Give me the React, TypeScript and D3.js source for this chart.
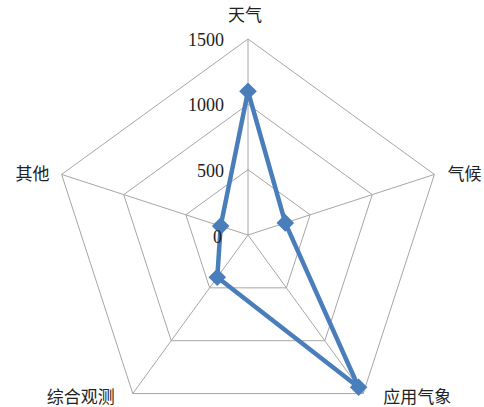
import React from 'react';
import * as d3 from 'd3';

// categories clockwise from the top
const categories = ['天气', '气候', '应用气象', '综合观测', '其他'];
const values = [1100, 300, 1440, 400, 220];
const ticks = [0, 500, 1000, 1500];

const W = 484;
const H = 407;
const cx = 248;
const cy = 235;
const R = 196;

const App: React.FC = () => {
  const r = d3.scaleLinear().domain([0, 1500]).range([0, R]);
  const angle = d3.scaleLinear().domain([0, categories.length]).range([0, 2 * Math.PI]);

  const pt = (i: number, v: number): [number, number] => {
    const a = angle(i);
    return [cx + r(v) * Math.sin(a), cy - r(v) * Math.cos(a)];
  };

  const gridPath = (v: number) =>
    d3.line<number>().x((i) => pt(i, v)[0]).y((i) => pt(i, v)[1]).curve(d3.curveLinearClosed)(
      d3.range(categories.length)
    );

  const seriesPath = d3.line<number>()
    .x((v, i) => pt(i, v)[0])
    .y((v, i) => pt(i, v)[1])
    .curve(d3.curveLinearClosed)(values);

  const diamond = d3.symbol().type(d3.symbolSquare).size(155)();

  const font = '"Liberation Serif", "Noto Sans CJK SC", serif';

  // label placement per axis
  const labelPos = (i: number) => {
    const [x, y] = pt(i, 1500);
    if (i === 0) return { x: x - 3, y: y - 24, anchor: 'middle' };
    if (i === 1) return { x: x + 13, y: y, anchor: 'start' };
    if (i === 2) return { x: x + 20, y: y + 4, anchor: 'start' };
    if (i === 3) return { x: x - 18, y: y + 4, anchor: 'end' };
    return { x: x - 12, y: y, anchor: 'end' };
  };

  return (
    <div style={{ position: 'absolute', left: 0, top: 0 }}>
      <svg width={W} height={H} style={{ display: 'block', background: '#fff' }}>
        <g fill="none" stroke="#a6a6a6" strokeWidth={1}>
          {ticks.slice(1).map((t) => (
            <path key={t} d={gridPath(t) || ''} />
          ))}
          {categories.map((c, i) => {
            const [x, y] = pt(i, 1500);
            return <line key={c} x1={cx} y1={cy} x2={x} y2={y} />;
          })}
        </g>

        <path d={seriesPath || ''} fill="none" stroke="#4a7ebb" strokeWidth={4.5} strokeLinejoin="round" />
        {values.map((v, i) => {
          const [x, y] = pt(i, v);
          return (
            <path key={i} d={diamond || ''} transform={`translate(${x},${y}) rotate(45)`} fill="#4a7ebb" />
          );
        })}

        {ticks.map((t) => (
          <text
            key={t}
            x={t === 0 ? cx - 26 : cx - 24}
            y={cy - r(t) + (t === 0 ? 2 : 1)}
            textAnchor="end"
            dominantBaseline="central"
            fontFamily={font}
            fontSize={18}
            fill="#222"
          >
            {t}
          </text>
        ))}

        {categories.map((c, i) => {
          const p = labelPos(i);
          return (
            <text
              key={c}
              x={p.x}
              y={p.y}
              textAnchor={p.anchor as any}
              dominantBaseline="central"
              fontFamily={font}
              fontSize={17}
              fill="#222"
            >
              {c}
            </text>
          );
        })}
      </svg>
    </div>
  );
};

export default App;
